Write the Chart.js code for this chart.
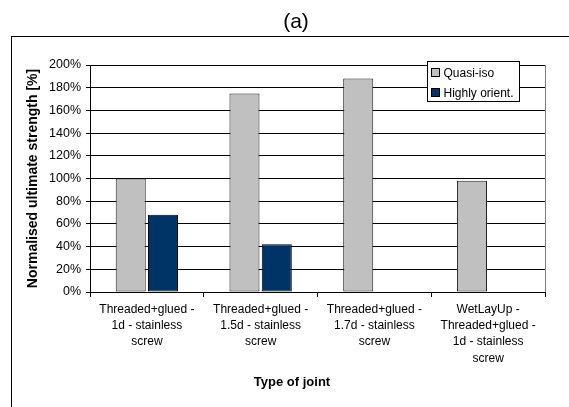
<!DOCTYPE html>
<html>
<head>
<meta charset="utf-8">
<script src="https://cdn.jsdelivr.net/npm/chart.js@4/dist/chart.umd.min.js"></script>
<style>
  html, body { margin: 0; padding: 0; background: #fff; }
  #wrap { width: 569px; height: 407px; position: relative; }
</style>
</head>
<body>
<div id="wrap"><canvas id="chart"></canvas></div>
<script>
const categories = [
  ['Threaded+glued -', '1d - stainless', 'screw'],
  ['Threaded+glued -', '1.5d - stainless', 'screw'],
  ['Threaded+glued -', '1.7d - stainless', 'screw'],
  ['WetLayUp -', 'Threaded+glued -', '1d - stainless', 'screw']
]
const seriesNames = ['Quasi-iso', 'Highly orient.']
const quasiIso = [100, 175, 188, 98]
const highlyOrient = [68, 42, null, null]
const yMin = 0, yMax = 200, yStep = 20
const chartTitle = '(a)'
const xTitle = 'Type of joint'
const yTitle = 'Normalised ultimate strength [%]'

const FONT = "'Liberation Sans', Arial, sans-serif"

// outer frame + white background
const framePlugin = {
  id: 'frame',
  beforeDraw(chart) {
    const ctx = chart.ctx
    ctx.save()
    ctx.fillStyle = '#fff'
    ctx.fillRect(0, 0, chart.width, chart.height)
    ctx.strokeStyle = '#000'
    ctx.lineWidth = 1
    ctx.strokeRect(11.5, 36.5, chart.width + 20, chart.height + 20)
    ctx.restore()
  },
  beforeDatasetsDraw(chart) {
    const { ctx, chartArea } = chart
    ctx.save()
    ctx.strokeStyle = '#808080'
    ctx.lineWidth = 1
    ctx.beginPath()
    ctx.moveTo(Math.round(chartArea.right) + 0.5, chartArea.top)
    ctx.lineTo(Math.round(chartArea.right) + 0.5, chartArea.bottom)
    ctx.stroke()
    ctx.restore()
  }
}

// boxed legend sitting inside the plot, top right
const boxLegend = {
  id: 'boxLegend',
  afterDraw(chart) {
    const { ctx, chartArea } = chart
    const w = 92, h = 40
    const x = Math.round(chartArea.right - 118) + 0.5
    const y = Math.round(chartArea.top - 4) + 0.5
    ctx.save()
    ctx.fillStyle = '#fff'
    ctx.fillRect(x, y, w, h)
    ctx.strokeStyle = '#000'
    ctx.lineWidth = 1
    ctx.strokeRect(x, y, w, h)
    ctx.font = '12px ' + FONT
    ctx.textBaseline = 'middle'
    chart.data.datasets.forEach((ds, i) => {
      const cy = y + 11 + i * 20
      ctx.fillStyle = ds.backgroundColor
      ctx.fillRect(x + 4, cy - 4, 8, 8)
      ctx.strokeStyle = '#000'
      ctx.strokeRect(x + 4, cy - 4, 8, 8)
      ctx.fillStyle = '#000'
      ctx.fillText(ds.label, x + 16, cy + 1)
    })
    ctx.restore()
  }
}

// "(a)" and x axis title, both centred on the frame rather than the axis
const titlesPlugin = {
  id: 'titles',
  afterDraw(chart) {
    const ctx = chart.ctx
    ctx.save()
    ctx.fillStyle = '#000'
    ctx.textAlign = 'center'
    ctx.textBaseline = 'middle'
    ctx.font = '21px ' + FONT
    ctx.fillText(chartTitle, 296, 22)
    ctx.font = 'bold 13px ' + FONT
    ctx.fillText(xTitle, 292, chart.chartArea.bottom + 90)
    ctx.restore()
  }
}

new Chart(document.getElementById('chart'), {
  type: 'bar',
  data: {
    labels: categories,
    datasets: [
      {
        label: seriesNames[0],
        data: quasiIso,
        backgroundColor: '#c0c0c0',
        borderColor: '#222',
        borderWidth: 1,
        borderSkipped: false
      },
      {
        label: seriesNames[1],
        data: highlyOrient,
        backgroundColor: '#003366',
        borderColor: '#000',
        borderWidth: 1,
        borderSkipped: false
      }
    ]
  },
  options: {
    responsive: true,
    maintainAspectRatio: false,
    animation: false,
    devicePixelRatio: 1,
    layout: { padding: { left: 0, right: 24, top: 65, bottom: 0 } },
    datasets: { bar: { categoryPercentage: 0.568, barPercentage: 0.93 } },
    plugins: {
      legend: { display: false },
      tooltip: { enabled: false },
      title: { display: false }
    },
    scales: {
      x: {
        afterFit: s => { s.height = 115 },
        grid: { display: true, drawOnChartArea: false, drawTicks: true, tickLength: 5, color: '#000', offset: true },
        border: { display: true, color: '#000' },
        ticks: {
          color: '#000',
          padding: 4,
          maxRotation: 0,
          autoSkip: false,
          font: { family: FONT, size: 12, lineHeight: 1.37 }
        }
      },
      y: {
        min: yMin,
        max: yMax,
        afterFit: s => { s.width = 90 },
        grid: { color: '#000', drawTicks: true, tickLength: 4 },
        border: { display: true, color: '#000' },
        ticks: {
          stepSize: yStep,
          color: '#000',
          padding: 5,
          font: { family: FONT, size: 12.5 },
          callback: v => v + '%'
        },
        title: {
          display: true,
          text: yTitle,
          color: '#000',
          font: { family: FONT, size: 14, weight: 'bold', lineHeight: 1.2 },
          padding: { top: 25, bottom: 0 }
        }
      }
    }
  },
  plugins: [framePlugin, boxLegend, titlesPlugin]
})
</script>
</body>
</html>
